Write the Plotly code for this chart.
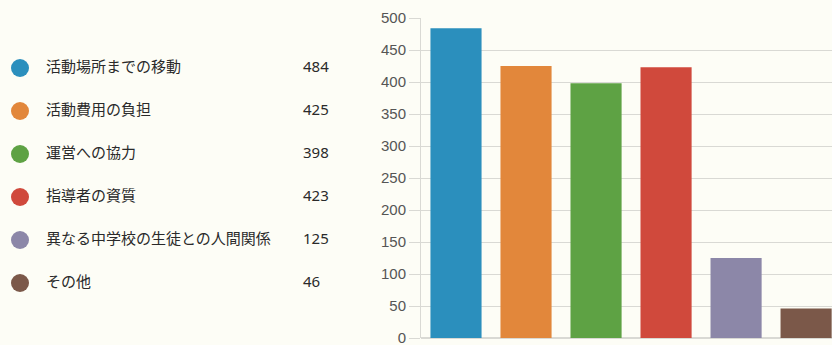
import plotly.graph_objects as go

categories = ["活動場所までの移動", "活動費用の負担", "運営への協力", "指導者の資質",
              "異なる中学校の生徒との人間関係", "その他"]
values = [484, 425, 398, 423, 125, 46]
colors = ["#2b8fbd", "#e2873b", "#5ea244", "#d0493c", "#8c87a8", "#7b5849"]
y_ticks = [0, 50, 100, 150, 200, 250, 300, 350, 400, 450, 500]

W, H = 832, 345
bg = "#fdfdf6"
grid = "#d9d9d4"

rows = list(range(len(categories)))

fig = go.Figure()

# bar chart
fig.add_trace(go.Bar(
    x=categories, y=values, marker=dict(color=colors, line=dict(width=0)),
    xaxis="x", yaxis="y", showlegend=False, hoverinfo="x+y"))

# legend table (left side)
fig.add_trace(go.Scatter(
    x=[20] * len(rows), y=rows, mode="markers",
    marker=dict(size=18, color=colors, line=dict(width=0)),
    xaxis="x2", yaxis="y2", showlegend=False, hoverinfo="skip"))
fig.add_trace(go.Scatter(
    x=[46] * len(rows), y=rows, mode="text", text=categories,
    textposition="middle right",
    textfont=dict(family="Noto Sans CJK JP", size=15, color="#2a2a2a"),
    xaxis="x2", yaxis="y2", showlegend=False, hoverinfo="skip"))
fig.add_trace(go.Scatter(
    x=[303] * len(rows), y=rows, mode="text", text=[str(v) for v in values],
    textposition="middle right",
    textfont=dict(family="Noto Sans", size=15, color="#2a2a2a"),
    xaxis="x2", yaxis="y2", showlegend=False, hoverinfo="skip"))

x0 = 421 / W
fig.update_layout(
    width=W, height=H,
    margin=dict(l=0, r=0, t=18, b=7),
    paper_bgcolor=bg, plot_bgcolor=bg,
    bargap=0.27,
    xaxis=dict(domain=[x0, 1], range=[-0.5, 5.37], showticklabels=False,
               showgrid=False, zeroline=False, showline=False, ticks="",
               fixedrange=True),
    yaxis=dict(range=[0, 500], tickvals=y_ticks, showgrid=True, gridcolor=grid,
               gridwidth=1, zeroline=True, zerolinecolor=grid, showline=True,
               linecolor=grid, ticks="outside", ticklen=11, tickcolor=grid,
               ticklabeloverflow="allow", automargin=False,
               tickfont=dict(family="Liberation Sans", size=15, color="#555555"),
               fixedrange=True),
    xaxis2=dict(domain=[0, 0.48], range=[0, 0.48 * W], visible=False,
                anchor="y2", fixedrange=True),
    yaxis2=dict(domain=[0, 1], range=[6.279, -1.163], visible=False,
                anchor="x2", fixedrange=True),
)

fig.write_html("out.html")
